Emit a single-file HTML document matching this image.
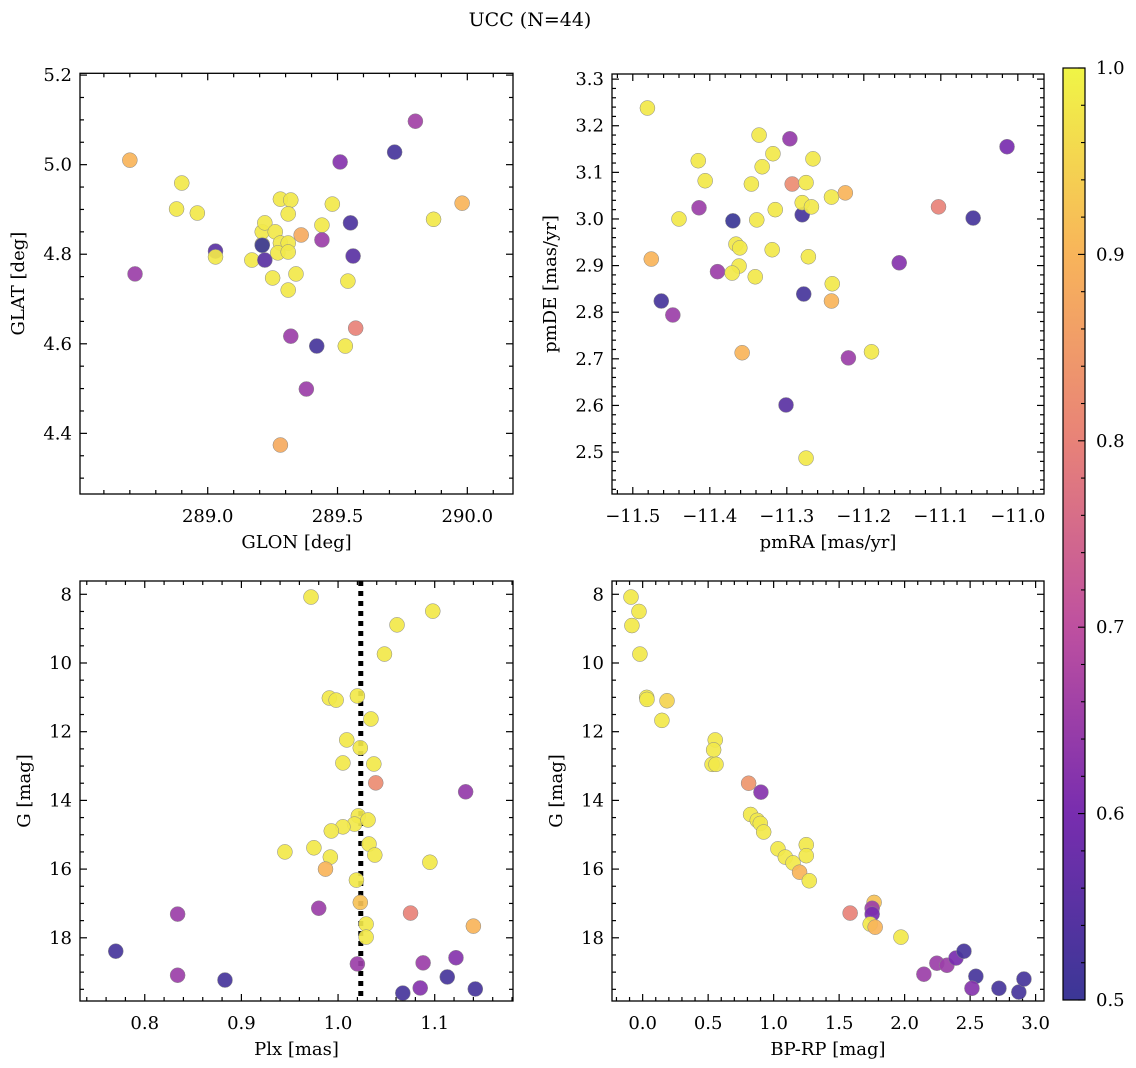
<!DOCTYPE html>
<html><head><meta charset="utf-8">
<style>
html,body{margin:0;padding:0;background:#fff;}
svg, svg text{font-family:"DejaVu Serif","Liberation Serif",serif;}
svg{display:block;}
</style></head>
<body>
<svg id="fig" width="1136" height="1068" viewBox="0 0 1136 1068" xmlns="http://www.w3.org/2000/svg" font-family="DejaVu Serif, Liberation Serif, serif">
<defs>
<linearGradient id="cmap" x1="0" y1="1" x2="0" y2="0">
<stop offset="0" stop-color="rgb(59,55,150)"/>
<stop offset="0.2" stop-color="rgb(120,45,175)"/>
<stop offset="0.4" stop-color="rgb(190,80,160)"/>
<stop offset="0.6" stop-color="rgb(232,130,120)"/>
<stop offset="0.8" stop-color="rgb(248,180,90)"/>
<stop offset="1" stop-color="rgb(240,245,70)"/>
</linearGradient>
</defs>
<text x="530" y="26" font-size="19" text-anchor="middle">UCC (N=44)</text>
</svg>
<script>
// ---- Panel 1: GLON / GLAT ----
const p1X=[288.70,288.90,288.88,288.96,289.03,289.03,288.72,289.17,289.21,289.21,289.22,289.26,289.22,289.25,289.28,289.32,289.31,289.28,289.31,289.27,289.31,289.34,289.31,289.36,289.32,289.28,289.38,289.42,289.44,289.44,289.48,289.51,289.55,289.56,289.54,289.53,289.57,289.72,289.80,289.87,289.98,289.21];
const p1Y=[5.01,4.959,4.901,4.892,4.807,4.794,4.756,4.787,4.822,4.850,4.870,4.850,4.787,4.747,4.923,4.921,4.890,4.825,4.825,4.803,4.805,4.756,4.720,4.843,4.617,4.374,4.499,4.595,4.865,4.832,4.912,5.006,4.870,4.796,4.740,4.595,4.635,5.028,5.097,4.878,4.914,4.820];
const p1P=[0.9,0.98,0.98,0.98,0.55,0.98,0.65,0.98,0.98,0.98,0.98,0.98,0.55,0.98,0.98,0.98,0.98,0.98,0.98,0.98,0.98,0.98,0.98,0.88,0.65,0.88,0.65,0.52,0.98,0.65,0.98,0.62,0.53,0.55,0.98,0.98,0.8,0.52,0.66,0.98,0.9,0.5];
// ---- Panel 2: pmRA / pmDE ----
const p2X=[-11.481,-11.415,-11.406,-11.440,-11.414,-11.476,-11.463,-11.448,-11.390,-11.370,-11.366,-11.361,-11.362,-11.371,-11.341,-11.358,-11.346,-11.339,-11.336,-11.332,-11.318,-11.319,-11.315,-11.296,-11.293,-11.301,-11.280,-11.278,-11.275,-11.280,-11.268,-11.272,-11.266,-11.275,-11.242,-11.224,-11.241,-11.242,-11.220,-11.190,-11.154,-11.103,-11.058,-11.014];
const p2Y=[3.238,3.125,3.082,3.000,3.024,2.914,2.824,2.794,2.887,2.996,2.946,2.938,2.899,2.884,2.876,2.713,3.075,2.998,3.180,3.112,3.140,2.934,3.020,3.172,3.075,2.601,3.009,2.839,3.078,3.035,3.026,2.919,3.129,2.487,3.047,3.056,2.861,2.824,2.702,2.715,2.906,3.026,3.002,3.155];
const p2P=[0.98,0.98,0.98,0.98,0.65,0.9,0.52,0.65,0.65,0.5,0.98,0.98,0.98,0.98,0.98,0.9,0.98,0.98,0.98,0.98,0.98,0.98,0.98,0.64,0.82,0.55,0.52,0.52,0.98,0.98,0.98,0.98,0.98,0.98,0.98,0.9,0.98,0.9,0.65,0.98,0.62,0.8,0.52,0.6];
// ---- Panel 3: Plx / G ----
const p3X=[0.972,1.098,1.061,1.048,0.991,0.998,1.020,1.034,1.009,1.023,1.005,1.037,1.039,1.132,1.021,1.017,1.031,1.005,0.993,1.032,0.945,0.975,1.038,0.992,1.095,0.987,1.019,0.980,0.834,1.075,1.140,1.023,1.029,1.029,0.770,1.020,1.088,1.122,0.834,0.883,1.113,1.067,1.085,1.142];
const p3Y=[8.08,8.49,8.89,9.74,11.02,11.08,10.96,11.63,12.24,12.47,12.91,12.94,13.49,13.75,14.45,14.69,14.57,14.77,14.89,15.27,15.50,15.38,15.59,15.65,15.80,16.00,16.32,17.14,17.31,17.28,17.66,16.97,17.60,17.98,18.39,18.76,18.73,18.58,19.09,19.23,19.14,19.61,19.46,19.49];
const p3P=[0.98,0.98,0.98,0.98,0.98,0.98,0.98,0.98,0.98,0.98,0.98,0.98,0.82,0.64,0.98,0.98,0.98,0.98,0.98,0.98,0.98,0.98,0.98,0.98,0.98,0.9,0.98,0.65,0.65,0.8,0.9,0.92,0.98,0.98,0.52,0.65,0.65,0.62,0.65,0.52,0.52,0.52,0.62,0.52];
const plxMean=1.0235;
// ---- Panel 4: BP-RP / G ----
const p4X=[-0.089,-0.028,-0.082,-0.021,0.031,0.033,0.186,0.147,0.554,0.542,0.530,0.560,0.809,0.903,0.824,0.875,0.898,0.924,1.033,1.089,1.148,1.249,1.249,1.198,1.272,1.584,1.767,1.752,1.752,1.737,1.775,1.972,2.147,2.246,2.323,2.392,2.453,2.544,2.514,2.720,2.872,2.911];
const p4Y=[8.08,8.50,8.91,9.74,11.00,11.06,11.10,11.67,12.24,12.53,12.95,12.95,13.50,13.76,14.41,14.58,14.67,14.92,15.41,15.65,15.82,15.29,15.61,16.09,16.34,17.28,16.97,17.14,17.31,17.60,17.69,17.98,19.06,18.74,18.80,18.59,18.39,19.12,19.47,19.47,19.58,19.20];
const p4P=[0.98,0.98,0.98,0.98,0.98,0.98,0.95,0.98,0.98,0.98,0.98,0.98,0.84,0.62,0.98,0.98,0.98,0.98,0.98,0.98,0.98,0.98,0.98,0.9,0.98,0.8,0.92,0.65,0.6,0.98,0.9,0.98,0.65,0.65,0.65,0.6,0.52,0.52,0.62,0.52,0.52,0.52];
// ---- Colorbar ----
const cbTicks=["0.5","0.6","0.7","0.8","0.9","1.0"];

const NS="http://www.w3.org/2000/svg";
const svg=document.getElementById('fig');
function mk(tag,attrs,parent){const e=document.createElementNS(NS,tag);for(const k in attrs)e.setAttribute(k,attrs[k]);(parent||svg).appendChild(e);return e;}
const stops=[[0.5,[59,55,150]],[0.6,[120,45,175]],[0.7,[190,80,160]],[0.8,[232,130,120]],[0.9,[248,180,90]],[1.0,[240,245,70]]];
function cmap(v){v=Math.max(0.5,Math.min(1,v));for(let i=0;i<stops.length-1;i++){const a=stops[i],b=stops[i+1];if(v<=b[0]){const t=(v-a[0])/(b[0]-a[0]);const c=a[1].map((x,j)=>Math.round(x+(b[1][j]-x)*t));return `rgb(${c[0]},${c[1]},${c[2]})`;}}return 'rgb(240,245,70)';}

function fmt(v,d){let s=v.toFixed(d);if(v<0)s='\u2212'+s.slice(1);return s;}

function panel(o){
  const g=mk('g',{});
  
  
  const sx=v=>o.L+(v-o.xmin)/(o.xmax-o.xmin)*(o.R-o.L);
  const sy=v=>o.inv? o.T+(v-o.ymin)/(o.ymax-o.ymin)*(o.B-o.T) : o.B-(v-o.ymin)/(o.ymax-o.ymin)*(o.B-o.T);
  const eps=1e-9;
  for(let v=Math.ceil(o.xmin/o.xminor-eps)*o.xminor;v<=o.xmax+eps;v+=o.xminor){
    const major=Math.abs(v/o.xmajor-Math.round(v/o.xmajor))<1e-6;
    const x=sx(v),len=major?7:4;
    mk('line',{x1:x,y1:o.B,x2:x,y2:o.B-len,stroke:'#000','stroke-width':1.2},g);
    mk('line',{x1:x,y1:o.T,x2:x,y2:o.T+len,stroke:'#000','stroke-width':1.2},g);
    if(major){const t=mk('text',{x:x,y:o.B+28,'font-size':18,'text-anchor':'middle'},g);t.textContent=fmt(Math.round(v/o.xmajor)*o.xmajor,o.xdec);
      
      }
  }
  for(let v=Math.ceil(o.ymin/o.yminor-eps)*o.yminor;v<=o.ymax+eps;v+=o.yminor){
    const major=Math.abs(v/o.ymajor-Math.round(v/o.ymajor))<1e-6;
    const y=sy(v),len=major?7:4;
    mk('line',{x1:o.L,y1:y,x2:o.L+len,y2:y,stroke:'#000','stroke-width':1.2},g);
    mk('line',{x1:o.R,y1:y,x2:o.R-len,y2:y,stroke:'#000','stroke-width':1.2},g);
    if(major){const t=mk('text',{x:o.L-8,y:y+6,'font-size':18,'text-anchor':'end'},g);t.textContent=fmt(Math.round(v/o.ymajor)*o.ymajor,o.ydec);
      
      }
  }
  if(o.vline!==undefined){
    const l=mk('line',{x1:sx(o.vline),y1:o.T,x2:sx(o.vline),y2:o.B,stroke:'#000','stroke-width':5,'stroke-dasharray':'5,5'},g);
    
    
  }
  for(let i=0;i<o.X.length;i++){
    const c=mk('circle',{cx:sx(o.X[i]),cy:sy(o.Y[i]),r:7.5,fill:cmap(o.P[i]),'fill-opacity':0.92,stroke:'#888','stroke-width':0.5},g);
    
    
  }
  const f=mk('rect',{x:o.L,y:o.T,width:o.R-o.L,height:o.B-o.T,fill:'none',stroke:'#000','stroke-width':1.3},g);
  
  
  const xl=mk('text',{x:(o.L+o.R)/2,y:o.B+54,'font-size':18,'text-anchor':'middle'},g);xl.textContent=o.xlabel;
  
  
  const yx=o.ylx,yy=(o.T+o.B)/2;
  const yl=mk('text',{x:yx,y:yy,'font-size':18,'text-anchor':'middle',transform:`rotate(-90 ${yx} ${yy})`},g);yl.textContent=o.ylabel;
  
  
}

panel({name:'glon-glat-panel',L:80,R:513,T:73.3,B:494,xmin:288.508,xmax:290.176,ymin:4.2646,ymax:5.204,xmajor:0.5,xminor:0.1,ymajor:0.2,yminor:0.05,xdec:1,ydec:1,X:p1X,Y:p1Y,P:p1P,xlabel:'GLON [deg]',ylabel:'GLAT [deg]',ylx:24});
panel({name:'pm-panel',L:612,R:1044,T:74,B:494,xmin:-11.527,xmax:-10.966,ymin:2.410,ymax:3.311,xmajor:0.1,xminor:0.02,ymajor:0.1,yminor:0.02,xdec:1,ydec:1,X:p2X,Y:p2Y,P:p2P,xlabel:'pmRA [mas/yr]',ylabel:'pmDE [mas/yr]',ylx:556});
panel({name:'plx-g-panel',L:80,R:513,T:581,B:1001,xmin:0.733,xmax:1.181,ymin:7.613,ymax:19.84,inv:true,xmajor:0.1,xminor:0.02,ymajor:2,yminor:0.5,xdec:1,ydec:0,X:p3X,Y:p3Y,P:p3P,vline:plxMean,xlabel:'Plx [mas]',ylabel:'G [mag]',ylx:30});
panel({name:'cmd-panel',L:612,R:1044,T:581,B:1001,xmin:-0.234,xmax:3.064,ymin:7.613,ymax:19.84,inv:true,xmajor:0.5,xminor:0.1,ymajor:2,yminor:0.5,xdec:1,ydec:0,X:p4X,Y:p4Y,P:p4P,xlabel:'BP-RP [mag]',ylabel:'G [mag]',ylx:562});

(function(){
  const g=mk('g',{});
  
  
  const L=1063,R=1085,T=68,B=1000;
  mk('rect',{x:L,y:T,width:R-L,height:B-T,fill:'url(#cmap)',stroke:'#000','stroke-width':1.2},g);
  const cy=v=>B-(v-0.5)/0.5*(B-T);
  for(let k=0;k<=25;k++){const v=0.5+k*0.02;const major=k%5===0;const y=cy(v);
    mk('line',{x1:R,y1:y,x2:R-(major?7:4),y2:y,stroke:'#000','stroke-width':1.1},g);}
  for(let i=0;i<cbTicks.length;i++){const v=parseFloat(cbTicks[i]);
    const t=mk('text',{x:1096,y:cy(v)+6,'font-size':18},g);t.textContent=cbTicks[i];
    
    }
})();
</script>
</body></html>
